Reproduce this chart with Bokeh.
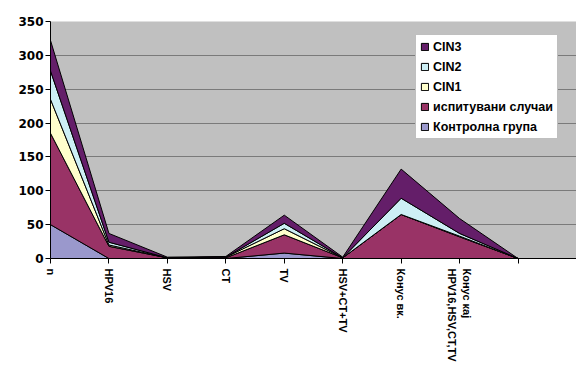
from bokeh.plotting import figure
from bokeh.models import Legend, LegendItem, FixedTicker, Range1d
from bokeh.embed import file_html
from bokeh.resources import INLINE

# Categories along the x axis (the last slot is an unlabeled end point)
categories = ["n", "HPV16", "HSV", "CT", "TV", "HSV+CT+TV", "Конус вк.",
              "Конус кај\nHPV16,HSV,CT,TV", ""]

# Series values (stacked bottom to top)
control = [50, 0, 0, 0, 8, 0, 0, 0, 0]      # Контролна група
cases = [135, 18, 1, 1, 27, 1, 65, 32, 0]   # испитувани случаи
cin1 = [50, 2, 0, 1, 9, 0, 0, 1, 0]
cin2 = [42, 4, 0, 0, 8, 0, 24, 4, 0]
cin3 = [45, 13, 1, 1, 12, 1, 43, 22, 0]

y_ticks = [0, 50, 100, 150, 200, 250, 300, 350]

series = [
    ("Контролна група", control, "#9A98CC"),
    ("испитувани случаи", cases, "#993366"),
    ("CIN1", cin1, "#FFFFCC"),
    ("CIN2", cin2, "#CDEFF5"),
    ("CIN3", cin3, "#641E69"),
]

xs = list(range(len(categories)))

p = figure(width=576, height=366, output_backend="svg", toolbar_location=None,
           x_range=Range1d(0, 9), y_range=Range1d(0, 350),
           min_border_left=50, min_border_right=0, min_border_top=21,
           min_border_bottom=108)
p.border_fill_color = "white"
p.background_fill_color = "#C0C0C0"
p.outline_line_color = None

# Stacked areas drawn as closed polygons with black outlines
renderers = {}
base = [0] * len(xs)
for name, vals, color in series:
    top = [b + v for b, v in zip(base, vals)]
    px = xs + xs[::-1]
    py = top + base[::-1]
    r = p.patch(px, py, fill_color=color, line_color="black", line_width=1)
    renderers[name] = r
    base = top

# Grid
p.xgrid.visible = False
p.ygrid.grid_line_color = "#7A7A7A"
p.ygrid.grid_line_width = 1.2
p.ygrid.ticker = FixedTicker(ticks=y_ticks)

# Y axis
p.yaxis.ticker = FixedTicker(ticks=y_ticks)
p.yaxis.axis_line_color = "black"
p.yaxis.major_tick_line_color = "black"
p.yaxis.major_tick_in = 0
p.yaxis.major_tick_out = 5
p.yaxis.minor_tick_line_color = None
p.yaxis.major_label_standoff = 2
p.yaxis.major_label_text_font = "DejaVu Sans"
p.yaxis.major_label_text_font_style = "bold"
p.yaxis.major_label_text_font_size = "12px"
p.yaxis.major_label_text_color = "black"

# X axis with category names
p.xaxis.ticker = FixedTicker(ticks=xs)
p.xaxis.major_label_overrides = {i: c for i, c in enumerate(categories)}
p.xaxis.major_label_orientation = "vertical"
p.xaxis.axis_line_color = "black"
p.xaxis.major_tick_line_color = "black"
p.xaxis.major_tick_in = 0
p.xaxis.major_tick_out = 5
p.xaxis.minor_tick_line_color = None
p.xaxis.major_label_standoff = 5
p.xaxis.major_label_text_font = "Liberation Sans"
p.xaxis.major_label_text_font_style = "bold"
p.xaxis.major_label_text_font_size = "11px"
p.xaxis.major_label_text_color = "black"

# Legend, top series first
items = [LegendItem(label=name, renderers=[renderers[name]])
         for name, _, _ in reversed(series)]
legend = Legend(items=items, location=(365, 119))
legend.background_fill_color = "white"
legend.background_fill_alpha = 1
legend.border_line_color = "#7F7F7F"
legend.border_line_width = 1
legend.label_text_font = "Liberation Sans"
legend.label_text_font_style = "bold"
legend.label_text_font_size = "12.5px"
legend.label_text_color = "black"
legend.glyph_width = 9
legend.glyph_height = 9
legend.label_height = 15
legend.label_standoff = 4
legend.spacing = 5
legend.padding = 4
legend.margin = 0
p.add_layout(legend, "center")

open("out.html", "w").write(file_html(p, INLINE))
